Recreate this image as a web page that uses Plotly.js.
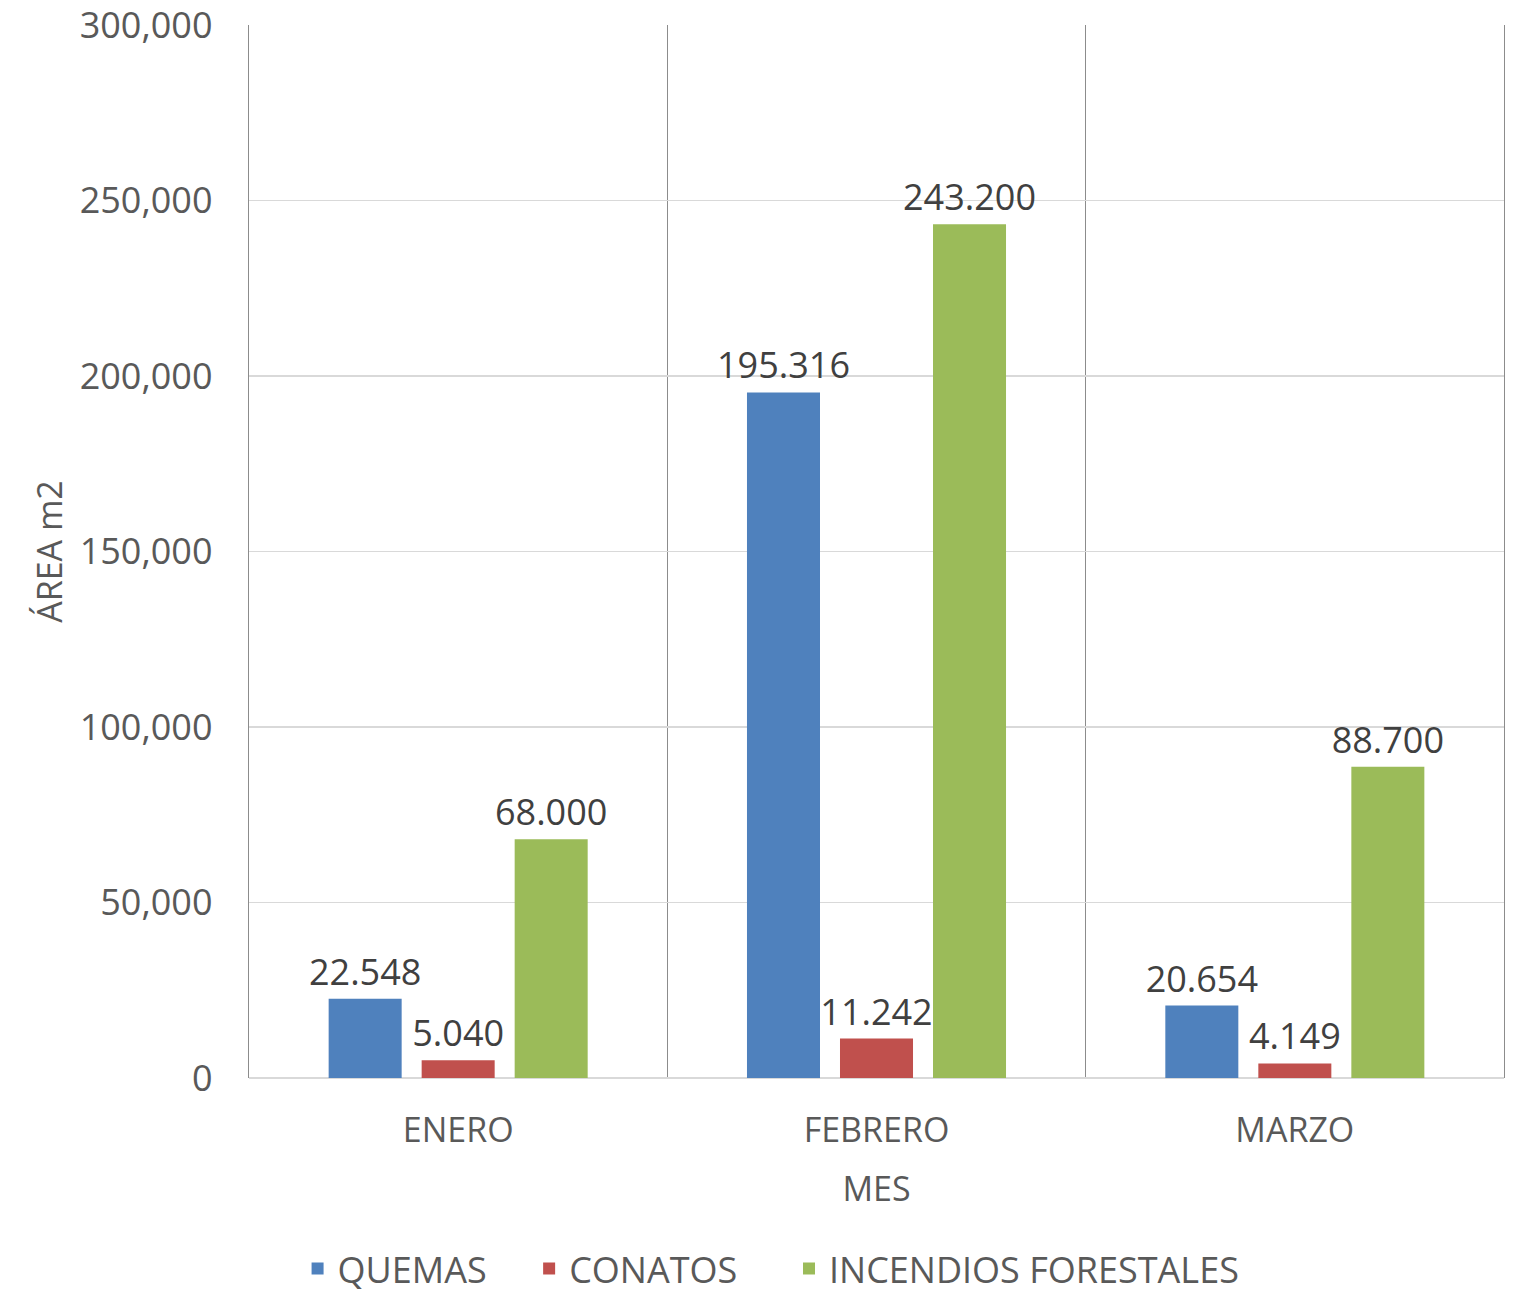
<!DOCTYPE html>
<html>
<head>
<meta charset="utf-8">
<script src="https://cdn.plot.ly/plotly-3.0.1.min.js"></script>
<style>html,body{margin:0;padding:0;background:#fff;}#chart{width:1526px;height:1295px;}</style>
</head>
<body>
<div id="chart"></div>
<script>
const months = ["ENERO", "FEBRERO", "MARZO"];
const seriesNames = ["QUEMAS", "CONATOS", "INCENDIOS FORESTALES"];
const quemas = [22548, 195316, 20654];
const conatos = [5040, 11242, 4149];
const incendios = [68000, 243200, 88700];
const quemasLabels = ["22.548", "195.316", "20.654"];
const conatosLabels = ["5.040", "11.242", "4.149"];
const incendiosLabels = ["68.000", "243.200", "88.700"];
const yTicks = [0, 50000, 100000, 150000, 200000, 250000, 300000];

const FONT = "'Open Sans', 'Noto Sans', sans-serif";
const NB = "\u00a0";
function barTrace(name, pad, y, text, color) {
  return {
    type: "bar", name: name + NB.repeat(pad), x: months, y: y, text: text,
    textposition: "outside", constraintext: "none", cliponaxis: false,
    textfont: {family: FONT, size: 36, color: "#404040"},
    marker: {color: color},
    hoverinfo: "none"
  };
}
const data = [
  barTrace(seriesNames[0], 4, quemas, quemasLabels, "#4f81bd"),
  barTrace(seriesNames[1], 5, conatos, conatosLabels, "#c0504d"),
  barTrace(seriesNames[2], 0, incendios, incendiosLabels, "#9bbb59")
];
const layout = {
  width: 1526, height: 1295,
  margin: {l: 249, r: 22, t: 25, b: 217, autoexpand: false},
  paper_bgcolor: "#fff", plot_bgcolor: "#fff",
  font: {family: FONT, size: 34, color: "#595959"},
  barmode: "group", bargap: 0.333, bargroupgap: 0.215,
  showlegend: true,
  legend: {orientation: "h", x: 0.416, xanchor: "center", y: -0.181, yanchor: "middle",
           font: {family: FONT, size: 36, color: "#595959"}, itemwidth: 30},
  xaxis: {
    type: "category", tickson: "boundaries", ticks: "", showgrid: true,
    gridcolor: "#8c8c8c", gridwidth: 1.3, showline: false, zeroline: false,
    ticklabelstandoff: 29,
    tickfont: {family: FONT, size: 34, color: "#595959"},
    title: {text: "MES", font: {family: FONT, size: 34, color: "#595959"}, standoff: 26},
    automargin: false
  },
  yaxis: {
    range: [0, 300000], tickvals: yTicks, tickformat: ",", ticks: "",
    ticklabeloverflow: "allow",
    showgrid: true, gridcolor: "#d9d9d9", gridwidth: 1.5,
    zeroline: true, zerolinecolor: "#d9d9d9", zerolinewidth: 1.5,
    showline: true, mirror: true, linecolor: "#8c8c8c", linewidth: 1.3,
    ticklabelstandoff: 28,
    tickfont: {family: FONT, size: 36, color: "#595959"},
    title: {text: "ÁREA m2", font: {family: FONT, size: 34, color: "#595959"}, standoff: 6},
    automargin: false
  }
};
Plotly.newPlot("chart", data, layout, {displayModeBar: false, staticPlot: true});
</script>
</body>
</html>
